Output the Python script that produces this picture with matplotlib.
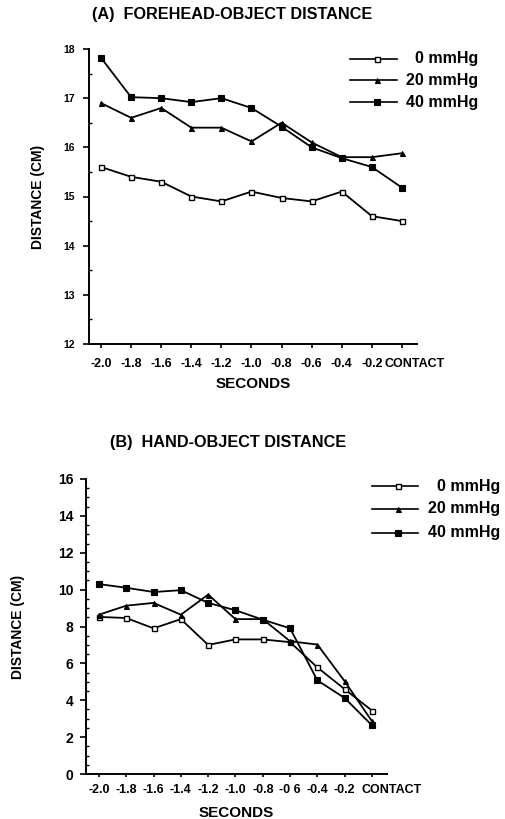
import matplotlib
matplotlib.use("Agg")
import matplotlib.pyplot as plt
from matplotlib.ticker import MultipleLocator
from matplotlib.lines import Line2D
from matplotlib.transforms import ScaledTranslation

plt.rcParams['font.family'] = ['Liberation Sans', 'DejaVu Sans']
plt.rcParams['font.weight'] = 'bold'

seconds = [-2.0, -1.8, -1.6, -1.4, -1.2, -1.0, -0.8, -0.6, -0.4, -0.2, 0.0]
tick_labels = ["-2.0", "-1.8", "-1.6", "-1.4", "-1.2", "-1.0", "-0.8", "-0.6", "-0.4", "-0.2", "CONTACT"]
tick_labels_b = ["-2.0", "-1.8", "-1.6", "-1.4", "-1.2", "-1.0", "-0.8", "-0 6", "-0.4", "-0.2", "CONTACT"]
series_names = ["0 mmHg", "20 mmHg", "40 mmHg"]

forehead_0 = [15.6, 15.4, 15.3, 15.0, 14.9, 15.1, 14.97, 14.9, 15.1, 14.6, 14.5]
forehead_20 = [16.9, 16.6, 16.8, 16.4, 16.4, 16.12, 16.5, 16.1, 15.8, 15.8, 15.88]
forehead_40 = [17.82, 17.02, 17.0, 16.92, 17.0, 16.8, 16.42, 16.0, 15.78, 15.6, 15.18]

hand_0 = [8.52, 8.46, 7.9, 8.4, 7.0, 7.3, 7.3, 7.15, 5.78, 4.6, 3.44]
hand_20 = [8.64, 9.13, 9.28, 8.64, 9.73, 8.4, 8.4, 7.2, 7.02, 5.03, 2.86]
hand_40 = [10.3, 10.1, 9.87, 9.97, 9.28, 8.88, 8.37, 7.9, 5.08, 4.12, 2.64]

styles = [dict(marker='s', mfc='white', mec='black', ms=3.6, mew=1.0),
          dict(marker='^', mfc='black', mec='black', ms=3.6, mew=0.8),
          dict(marker='s', mfc='black', mec='black', ms=3.8, mew=0.8)]

W, H = 506, 819
fig = plt.figure(figsize=(W / 100, H / 100), dpi=100)

def px_axes(l, r, t, b):
    return fig.add_axes([l / W, 1 - b / H, (r - l) / W, (b - t) / H])

def style_axes(ax):
    for s in ['top', 'right']:
        ax.spines[s].set_visible(False)
    for s in ['left', 'bottom']:
        ax.spines[s].set_linewidth(1.4)
    ax.tick_params(axis='both', which='major', width=1.2, color='black')
    ax.tick_params(axis='y', which='minor', length=2.5, width=1.0, direction='in')

def shift_last_label(ax, dx_px):
    lab = ax.get_xticklabels()[-1]
    lab.set_horizontalalignment('left')
    lab.set_transform(lab.get_transform() + ScaledTranslation(dx_px / 100, 0, fig.dpi_scale_trans))

# Panel A
axA = px_axes(89, 417, 49, 344)
for vals, st, nm in zip([forehead_0, forehead_20, forehead_40], styles, series_names):
    axA.plot(seconds, vals, color='black', lw=1.3, label=nm, **st)
axA.set_xlim(-2.08, 0.10)
axA.set_ylim(12, 18)
axA.yaxis.set_major_locator(MultipleLocator(1))
axA.yaxis.set_minor_locator(MultipleLocator(0.5))
axA.set_xticks(seconds)
axA.set_xticklabels(tick_labels, fontsize=9, fontweight='bold')
axA.tick_params(axis='y', which='major', labelsize=7.5, length=4, pad=6)
axA.tick_params(axis='x', which='major', length=3, pad=7)
style_axes(axA)
shift_last_label(axA, -17)
axA.set_xlabel("SECONDS", fontsize=11, fontweight='bold', va='center')
axA.xaxis.set_label_coords(0.5, -(384 - 344) / (344 - 49))
axA.set_ylabel("DISTANCE (CM)", fontsize=10, fontweight='bold', va='center')
axA.yaxis.set_label_coords(-(89 - 38) / (417 - 89), 0.5)
fig.text(92 / W, 1 - 15 / H, "(A)  FOREHEAD-OBJECT DISTANCE", fontsize=11.7,
         fontweight='bold', ha='left', va='center')

# Panel B
axB = px_axes(86, 387, 479, 774)
for vals, st, nm in zip([hand_0, hand_20, hand_40], styles, series_names):
    axB.plot(seconds, vals, color='black', lw=1.3, label=nm, **st)
axB.set_xlim(-2.095, 0.11)
axB.set_ylim(0, 16)
axB.yaxis.set_major_locator(MultipleLocator(2))
axB.yaxis.set_minor_locator(MultipleLocator(0.5))
axB.set_xticks(seconds)
axB.set_xticklabels(tick_labels_b, fontsize=9, fontweight='bold')
axB.tick_params(axis='y', which='major', labelsize=10, length=4, pad=5)
axB.tick_params(axis='x', which='major', length=2, pad=5)
style_axes(axB)
shift_last_label(axB, -10)
axB.set_xlabel("SECONDS", fontsize=11, fontweight='bold', va='center')
axB.xaxis.set_label_coords(0.5, -(813 - 774) / (774 - 479))
axB.set_ylabel("DISTANCE (CM)", fontsize=10, fontweight='bold', va='center')
axB.yaxis.set_label_coords(-(86 - 18) / (387 - 86), 0.5)
fig.text(110 / W, 1 - 443 / H, "(B)  HAND-OBJECT DISTANCE", fontsize=11.7,
         fontweight='bold', ha='left', va='center')

# Legends drawn manually in figure pixel coordinates
def draw_legend(x0, x1, xtext, rows, fs):
    for (y, st, nm) in zip(rows, styles, series_names):
        yy = 1 - y / H
        fig.add_artist(Line2D([x0 / W, x1 / W], [yy, yy], color='black', lw=1.2,
                              transform=fig.transFigure))
        fig.add_artist(Line2D([((x0 + x1) / 2 + 3) / W], [yy], color='black', lw=0,
                              transform=fig.transFigure, **st))
        fig.text(xtext / W, yy, nm, fontsize=fs, fontweight='bold', ha='right', va='center')

draw_legend(350, 397, 478, [59, 80, 102], 11.5)
draw_legend(372, 418, 500, [486, 509, 533], 11.5)

fig.savefig("out.png", dpi=100)
